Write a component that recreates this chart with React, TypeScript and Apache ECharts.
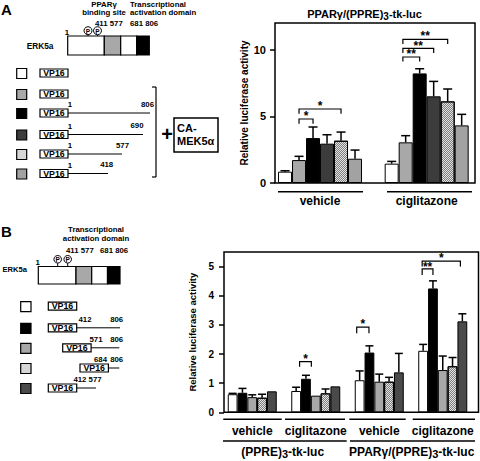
import React, { useEffect, useRef } from 'react';
import * as echarts from 'echarts';

const FONT = '"Liberation Sans", Arial, Helvetica, sans-serif';

// ---------------- Panel A chart data ----------------
const aCategories = ['vehicle', 'ciglitazone'];
const aTickValues = [0, 5, 10];
const aMeans = [
  [0.85, 1.45],
  [1.72, 3.05],
  [3.37, 8.22],
  [2.95, 6.5],
  [3.17, 6.12],
  [1.82, 4.32],
];
const aSem = [
  [0.07, 0.17],
  [0.28, 0.5],
  [0.83, 0.35],
  [0.67, 1.12],
  [0.65, 0.93],
  [0.65, 0.83],
];
// significance brackets: category, from bar, to bar, top value, leg length, star value, label
const aBrackets = [
  { cat: 0, from: 1, to: 2, top: 4.8, leg: 0.35, star: 5.25, label: '*' },
  { cat: 0, from: 1, to: 4, top: 5.55, leg: 0.35, star: 6.0, label: '*' },
  { cat: 1, from: 0.8, to: 2, top: 9.45, leg: 0.33, star: 9.87, label: '**' },
  { cat: 1, from: 0.8, to: 3, top: 10.1, leg: 0.35, star: 10.5, label: '**' },
  { cat: 1, from: 0.8, to: 4, top: 10.77, leg: 0.35, star: 11.25, label: '**' },
];

// ---------------- Panel B chart data ----------------
const bCategories = ['vehicle', 'ciglitazone', 'vehicle', 'ciglitazone'];
const bReporters = ['(PPRE){s|3}-tk-luc', 'PPARγ/(PPRE){s|3}-tk-luc'];
const bTickValues = [0, 1, 2, 3, 4, 5];
const bMeans = [
  [0.62, 0.73, 1.1, 2.11],
  [0.67, 1.15, 2.05, 4.25],
  [0.52, 0.57, 1.05, 1.45],
  [0.5, 0.65, 1.05, 1.58],
  [0.72, 0.89, 1.37, 3.12],
];
const bSem = [
  [0.03, 0.13, 0.32, 0.22],
  [0.15, 0.12, 0.23, 0.26],
  [0.08, 0, 0.26, 0.48],
  [0.12, 0.15, 0.15, 0.3],
  [0, 0, 0.65, 0.26],
];
const bBrackets = [
  { cat: 1, from: 0.35, to: 1.55, top: 1.74, leg: 0.18, star: 1.92, label: '*' },
  { cat: 2, from: -0.3, to: 0.95, top: 2.92, leg: 0.21, star: 3.12, label: '*' },
  { cat: 3, from: -0.1, to: 1, top: 4.92, leg: 0.21, star: 5.1, label: '**' },
  { cat: 3, from: -0.1, to: 3.8, top: 5.19, leg: 0.19, star: 5.4, label: '*' },
];

// ---------------- Diagram labels ----------------
const aConstructEnds = [null, null, '806', '690', '577', '418'];
const bConstructLabels = [null, ['412', '806'], ['571', '806'], ['684', '806'], ['412 577']];

const CHECK = 'check';
const aFills = ['#ffffff', '#a8a8a8', '#000000', '#3c3c3c', CHECK, '#a2a2a2'];
const bFills = ['#ffffff', '#000000', '#a8a8a8', CHECK, '#4a4a4a'];

const checkDecal = {
  symbol: 'rect',
  symbolSize: 1,
  color: 'rgba(0,0,0,0.45)',
  dashArrayX: [[1, 1], [0, 1, 1, 0]],
  dashArrayY: [1, 0],
  rotation: 0,
};

function fillStyle(f: string) {
  if (f === CHECK) {
    return { color: '#e4e4e4', borderColor: '#000', borderWidth: 1, decal: checkDecal };
  }
  return { color: f, borderColor: '#000', borderWidth: 1 };
}

function legendFill(f: string) {
  return f === CHECK ? '#d6d6d6' : f;
}

// ---------- graphic helpers ----------
const DF = 8.3; // diagram label size
const HF = 7.8; // header label size
const NF = 7.8; // residue number size

function T(x: number, y: number, text: string, size: number, align = 'center', weight = 'bold', z = 10, lineHeight?: number) {
  const style: any = {
    text,
    fontSize: size,
    fontWeight: weight,
    fontFamily: FONT,
    fill: '#000',
    align,
    verticalAlign: 'middle',
  };
  if (lineHeight) style.lineHeight = lineHeight;
  return { type: 'text', x, y, silent: true, z, style };
}
function L(x1: number, y1: number, x2: number, y2: number, w = 1) {
  return { type: 'line', silent: true, z: 10, shape: { x1, y1, x2, y2 }, style: { stroke: '#000', lineWidth: w } };
}
function R(x: number, y: number, w: number, h: number, fill: string, lw = 1) {
  return { type: 'rect', silent: true, z: 10, shape: { x, y, width: w, height: h }, style: { fill, stroke: '#000', lineWidth: lw } };
}
function P(cx: number, cy: number, r: number, stemTo: number) {
  return [
    L(cx, cy + r, cx, stemTo, 1),
    { type: 'circle', silent: true, z: 11, shape: { cx, cy, r }, style: { fill: '#fff', stroke: '#000', lineWidth: 1 } },
    T(cx, cy + 0.4, 'P', 6.5, 'center', 'bold', 12),
  ];
}
function subText(x: number, y: number, text: string, size: number) {
  return {
    type: 'text',
    x,
    y,
    silent: true,
    z: 10,
    style: {
      text,
      fontSize: size,
      fontWeight: 'bold',
      fontFamily: FONT,
      fill: '#000',
      align: 'center',
      verticalAlign: 'middle',
      lineHeight: 16,
      rich: {
        s: { fontSize: size - 1, fontWeight: 'bold', fontFamily: FONT, fill: '#000', verticalAlign: 'bottom', lineHeight: 12 },
      },
    },
  };
}

function buildGraphics() {
  const g: any[] = [];
  // ===== Panel A diagram =====
  g.push(T(1, 9, 'A', 15, 'left'));
  g.push(T(104, 4, 'PPARγ', HF));
  g.push(T(104, 12.8, 'binding site', HF));
  g.push(T(130, 4, 'Transcriptional', HF, 'left'));
  g.push(T(130, 12.8, 'activation domain', HF, 'left'));
  g.push(T(95, 23.5, '411 577', NF, 'left'));
  g.push(T(130, 23.5, '681 806', NF, 'left'));
  g.push(T(67, 32, '1', NF));
  g.push(...P(88, 30.7, 4, 36));
  g.push(...P(97.5, 30.7, 4, 36));
  g.push(T(40, 45.5, 'ERK5a', DF));
  g.push(R(67.7, 36, 36.6, 19, '#fff', 1.2));
  g.push(R(104.3, 36, 16.4, 19, '#a8a8a8', 1.2));
  g.push(R(120.7, 36, 16, 19, '#fff', 1.2));
  g.push(R(136.7, 36, 12.6, 19, '#000', 1.2));
  const aRowTops = [68.5, 89.5, 108.5, 130, 149.5, 169];
  const aLineEnds = [0, 0, 150, 143, 122, 108];
  const aEndLabelX = [0, 0, 147.5, 137, 122.5, 106.7];
  aRowTops.forEach((top, i) => {
    g.push(R(16.7, top, 10, 10, legendFill(aFills[i]), 1.2));
    g.push(R(40, top + 0.5, 28, 8, '#fff', 1.2));
    g.push(T(54, top + 4.5, 'VP16', 8.8));
    const end = aConstructEnds[i];
    if (end) {
      const ly = top + 4.5;
      g.push(L(68, ly, aLineEnds[i], ly, 1));
      g.push(T(70, ly - 8.5, '1', NF));
      g.push(T(aEndLabelX[i], ly - 8.8, end, NF));
    }
  });
  g.push(L(156, 87, 156, 177, 1.2));
  g.push(L(152, 87, 156, 87, 1.2));
  g.push(L(152, 177, 156, 177, 1.2));
  g.push(T(167, 134, '+', 20));
  g.push(R(174, 118, 44, 34, '#fff', 1.5));
  g.push(T(177, 127.5, 'CA-', 11, 'left'));
  g.push(T(177, 141, 'MEK5α', 11, 'left'));

  // ===== Panel B diagram =====
  g.push(T(1, 231.7, 'B', 15, 'left'));
  g.push(T(96, 229.8, 'Transcriptional', HF));
  g.push(T(96, 238.6, 'activation domain', HF));
  g.push(T(66, 250.5, '411 577', NF, 'left'));
  g.push(T(100, 250.5, '681 806', NF, 'left'));
  g.push(T(37.7, 262.5, '1', NF));
  g.push(...P(57.7, 259.3, 3.8, 266.5));
  g.push(...P(67.7, 259.3, 3.8, 266.5));
  g.push(T(2.5, 269.5, 'ERK5a', 7.6, 'left'));
  g.push(R(38.3, 266.5, 37.7, 17.5, '#fff', 1.2));
  g.push(R(76, 266.5, 15.7, 17.5, '#a8a8a8', 1.2));
  g.push(R(91.7, 266.5, 15.8, 17.5, '#fff', 1.2));
  g.push(R(107.5, 266.5, 12.5, 17.5, '#000', 1.2));
  const bRowTops = [301.7, 323.3, 343.3, 363.5, 383.5];
  const bBoxX = [48.3, 48.3, 62.7, 80, 48.3];
  const bLineEnd = [0, 120, 119.3, 119.3, 96];
  const bLabelX = [[], [85, 116.7], [96, 116.7], [100.5, 116.7], [87.5]];
  bRowTops.forEach((top, i) => {
    g.push(R(20.7, top, 10.3, 10, legendFill(bFills[i]), 1.2));
    const by = top + 0.5;
    g.push(R(bBoxX[i], by, 28.4, 8, '#fff', 1.2));
    g.push(T(bBoxX[i] + 14.2, by + 4, 'VP16', 8.8));
    const labels = bConstructLabels[i];
    if (labels) {
      const ly = by + 4;
      g.push(L(bBoxX[i] + 28.4, ly, bLineEnd[i], ly, 1));
      labels.forEach((lab, k) => g.push(T(bLabelX[i][k], ly - 8.8, lab, NF)));
    }
  });

  // ===== Chart A decorations =====
  g.push(subText(364.5, 13.5, 'PPARγ/(PPRE){s|3}-tk-luc', 11));
  g.push(L(278, 191.7, 363, 191.7, 1.5));
  g.push(L(387, 191.7, 472, 191.7, 1.5));

  // ===== Chart B decorations =====
  g.push(L(223.3, 419.3, 281.7, 419.3, 1.5));
  g.push(L(285, 419.3, 345, 419.3, 1.5));
  g.push(L(349.3, 419.3, 405.7, 419.3, 1.5));
  g.push(L(412.7, 419.3, 475, 419.3, 1.5));
  g.push(L(223, 441, 346.7, 441, 1.5));
  g.push(L(350, 441, 475, 441, 1.5));
  g.push(subText(282.7, 451.7, bReporters[0], 12));
  g.push(subText(411.7, 451.7, bReporters[1], 12));
  return g;
}

function errorSeries(means: number[][], sem: number[][], n: number, bw: number, cap: number, xi: number) {
  const data: any[] = [];
  means.forEach((row, i) => row.forEach((v, c) => {
    if (sem[i][c] > 0) data.push([c, i, v, sem[i][c]]);
  }));
  return {
    type: 'custom',
    xAxisIndex: xi,
    yAxisIndex: xi,
    z: 5,
    silent: true,
    encode: { x: 0, y: 2 },
    data,
    renderItem: (params: any, api: any) => {
      const c = api.value(0);
      const i = api.value(1);
      const v = api.value(2);
      const e = api.value(3);
      const cx = api.coord([c, 0])[0] + (i - (n - 1) / 2) * bw;
      const y0 = api.coord([c, v])[1];
      const y1 = api.coord([c, v + e])[1];
      return {
        type: 'group',
        children: [
          { type: 'line', shape: { x1: cx, y1: y0, x2: cx, y2: y1 }, style: { stroke: '#000', lineWidth: 1.5 } },
          { type: 'line', shape: { x1: cx - cap / 2, y1: y1, x2: cx + cap / 2, y2: y1 }, style: { stroke: '#000', lineWidth: 1.5 } },
        ],
      };
    },
  };
}

function bracketSeries(brackets: any[], n: number, bw: number, xi: number) {
  return {
    type: 'custom',
    xAxisIndex: xi,
    yAxisIndex: xi,
    z: 6,
    silent: true,
    encode: { x: 0, y: 1 },
    data: brackets.map((b) => [b.cat, b.top]),
    renderItem: (params: any, api: any) => {
      const b = brackets[params.dataIndex];
      const c = api.coord([b.cat, 0])[0];
      const xL = c + (b.from - (n - 1) / 2) * bw;
      const xR = c + (b.to - (n - 1) / 2) * bw;
      const yT = api.coord([b.cat, b.top])[1];
      const yB = api.coord([b.cat, b.top - b.leg])[1];
      const yS = api.coord([b.cat, b.star])[1];
      return {
        type: 'group',
        children: [
          {
            type: 'polyline',
            shape: { points: [[xL, yB], [xL, yT], [xR, yT], [xR, yB]] },
            style: { stroke: '#000', fill: null, lineWidth: 1.2 },
          },
          {
            type: 'text',
            x: (xL + xR) / 2,
            y: yS + 3,
            style: { text: b.label, fontSize: 12, fontWeight: 'bold', fontFamily: FONT, fill: '#000', align: 'center', verticalAlign: 'middle' },
          },
        ],
      };
    },
  };
}

const A_BW = 14;
const B_BW = 9.8;

function buildOption() {
  const series: any[] = [];
  aMeans.forEach((row, i) => {
    series.push({
      type: 'bar',
      xAxisIndex: 1,
      yAxisIndex: 1,
      data: row,
      barWidth: A_BW,
      barGap: '0%',
      itemStyle: fillStyle(aFills[i]),
      silent: true,
      z: 3,
    });
  });
  series.push(errorSeries(aMeans, aSem, 6, A_BW, 9, 1));
  series.push(bracketSeries(aBrackets, 6, A_BW, 1));
  bMeans.forEach((row, i) => {
    series.push({
      type: 'bar',
      xAxisIndex: 3,
      yAxisIndex: 3,
      data: row,
      barWidth: B_BW,
      barGap: '0%',
      itemStyle: fillStyle(bFills[i]),
      silent: true,
      z: 3,
    });
  });
  series.push(errorSeries(bMeans, bSem, 5, B_BW, 8, 3));
  series.push(bracketSeries(bBrackets, 5, B_BW, 3));

  const yFrame = (max: number, ticks: number[], labelSize: number, margin: number, nameGap: number, nameSize: number, gi: number) => ({
    type: 'value',
    gridIndex: gi,
    min: 0,
    max,
    axisLine: { show: false },
    splitLine: { show: false },
    axisTick: { show: true, inside: false, length: 5, customValues: ticks, lineStyle: { color: '#000', width: 1.5 } },
    axisLabel: { customValues: ticks, fontSize: labelSize, fontWeight: 'bold', fontFamily: FONT, color: '#000', margin },
    name: 'Relative luciferase activity',
    nameLocation: 'middle',
    nameGap,
    nameTextStyle: { fontSize: nameSize, fontWeight: 'bold', fontFamily: FONT, color: '#000' },
  });
  const yHidden = (max: number, gi: number) => ({ type: 'value', gridIndex: gi, min: 0, max, show: false });
  const xHidden = (gi: number) => ({ type: 'value', gridIndex: gi, min: 0, max: 1, show: false });
  const xCat = (data: string[], gi: number, margin: number) => ({
    type: 'category',
    gridIndex: gi,
    data,
    axisLine: { show: false },
    axisTick: { show: false },
    axisLabel: { fontSize: 12, fontWeight: 'bold', fontFamily: FONT, color: '#000', margin, interval: 0 },
  });

  return {
    animation: false,
    backgroundColor: '#ffffff',
    textStyle: { fontFamily: FONT },
    grid: [
      { left: 275, top: 23, width: 200, height: 160, show: true, borderColor: '#000', borderWidth: 1.5, backgroundColor: 'transparent' },
      { left: 266.7, top: 23, width: 214.4, height: 160 },
      { left: 224, top: 252, width: 254.5, height: 160.3, show: true, borderColor: '#000', borderWidth: 1.5, backgroundColor: 'transparent' },
      { left: 220.5, top: 252, width: 254, height: 160.3 },
    ],
    xAxis: [xHidden(0), xCat(aCategories, 1, 12), xHidden(2), xCat(bCategories, 3, 13)],
    yAxis: [
      yFrame(12, aTickValues, 11, 9, 16, 10, 0),
      yHidden(12, 1),
      yFrame(5.5, bTickValues, 10, 10, 20, 9.5, 2),
      yHidden(5.5, 3),
    ],
    series,
    graphic: { elements: buildGraphics() },
  };
}

export default function App() {
  const ref = useRef<HTMLDivElement>(null);
  useEffect(() => {
    if (!ref.current) return;
    const chart = echarts.init(ref.current, undefined, { renderer: 'svg' });
    chart.setOption(buildOption() as any);
    return () => chart.dispose();
  }, []);
  return (
    <div
      ref={ref}
      style={{ position: 'fixed', left: 0, top: 0, width: 480, height: 461, background: '#fff' }}
    />
  );
}
